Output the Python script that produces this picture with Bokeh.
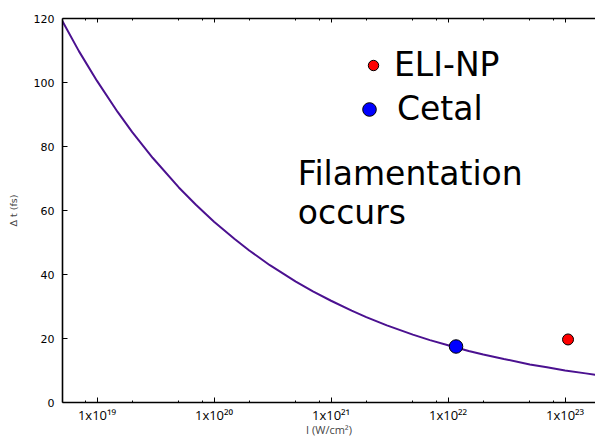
from bokeh.plotting import figure
from bokeh.models import Range1d, FixedTicker, LogAxis, Legend, LegendItem, Label
from bokeh.embed import file_html
from bokeh.resources import INLINE

# ---- data ----
intensity = [5e18, 7e18, 1e19, 1.5e19, 2e19, 3e19, 5e19, 7e19, 1e20, 1.5e20, 2e20, 3e20,
             5e20, 7e20, 1e21, 1.5e21, 2e21, 3e21, 5e21, 7e21, 1e22, 1.5e22, 2e22, 3e22,
             5e22, 7e22, 1e23, 1.5e23, 2e23]
delta_t = [119.5, 109.8, 100.5, 90.8, 84.5, 76.4, 67.2, 61.8, 56.5, 51.1, 47.5, 42.9,
           37.8, 34.7, 31.8, 28.7, 26.7, 24.1, 21.2, 19.5, 17.9, 16.1, 15.0, 13.6,
           11.9, 11.0, 10.0, 9.1, 8.4]

eli_np_I = [1.06e23]
eli_np_dt = [19.7]
cetal_I = [1.17e22]
cetal_dt = [17.5]

x_major = [1e19, 1e20, 1e21, 1e22, 1e23]
x_major_labels = ["1x10¹⁹", "1x10²⁰", "1x10²¹", "1x10²²", "1x10²³"]
x_minor = [m * d for d in [1e18, 1e19, 1e20, 1e21, 1e22, 1e23] for m in (2, 5, 8)]
y_major = [0, 20, 40, 60, 80, 100, 120]

# ---- figure ----
p = figure(width=595, height=441, x_axis_type="log",
           x_range=Range1d(5.07e18, 1.82e23), y_range=Range1d(0, 120),
           output_backend="svg", toolbar_location=None,
           min_border_left=62, min_border_right=0, min_border_top=18, min_border_bottom=39)
p.background_fill_color = "white"
p.border_fill_color = "white"
p.outline_line_color = None
p.xgrid.visible = False
p.ygrid.visible = False

xt = FixedTicker(ticks=x_major, minor_ticks=x_minor)

xa = p.xaxis[0]
xa.ticker = xt
xa.major_label_overrides = dict(zip(x_major, x_major_labels))
xa.major_label_text_font = "Open Sans"
xa.major_label_text_font_size = "13px"
xa.major_label_text_color = "black"
xa.major_label_standoff = 3
xa.axis_label = "I (W/cm²)"
xa.axis_label_text_font = "Open Sans"
xa.axis_label_text_font_style = "normal"
xa.axis_label_text_font_size = "11px"
xa.axis_label_standoff = -5
xa.axis_line_width = 1.6
xa.axis_line_color = "black"
xa.major_tick_in = 5
xa.major_tick_out = 0
xa.minor_tick_in = 2
xa.minor_tick_out = 0
xa.major_tick_line_color = "black"
xa.minor_tick_line_color = "black"

ya = p.yaxis[0]
ya.ticker = FixedTicker(ticks=y_major, minor_ticks=[])
ya.major_label_text_font = "DejaVu Sans"
ya.major_label_text_font_size = "11px"
ya.major_label_text_color = "black"
ya.major_label_standoff = 8
ya.axis_label = "Δ t (fs)"
ya.axis_label_text_font = "DejaVu Sans"
ya.axis_label_text_font_style = "normal"
ya.axis_label_text_font_size = "9.5px"
ya.axis_label_standoff = 12
ya.axis_line_width = 1.6
ya.axis_line_color = "black"
ya.major_tick_in = 5
ya.major_tick_out = 0
ya.minor_tick_in = 0
ya.minor_tick_out = 0

top = LogAxis(ticker=xt, major_label_text_font_size="1px", major_label_text_alpha=0,
              major_label_standoff=0,
              major_tick_in=4, major_tick_out=0, minor_tick_in=2, minor_tick_out=0,
              axis_line_width=1.6, axis_line_color="black")
p.add_layout(top, "above")

# ---- glyphs ----
p.line(intensity, delta_t, line_color="#4b1190", line_width=2)
r_eli = p.scatter(eli_np_I, eli_np_dt, size=11, fill_color="red", line_color="black", line_width=1)
r_cetal = p.scatter(cetal_I, cetal_dt, size=13.5, fill_color="#0000ff", line_color="black", line_width=1)

leg_common = dict(padding=0, margin=0, border_line_color=None, background_fill_alpha=0,
                  label_text_font="DejaVu Sans", label_text_font_size="33px",
                  label_text_color="black", spacing=0)
leg1 = Legend(items=[LegendItem(label="ELI-NP", renderers=[r_eli])],
              location=(298, 318), glyph_width=26, glyph_height=26, label_standoff=8,
              **leg_common)
leg2 = Legend(items=[LegendItem(label="Cetal", renderers=[r_cetal])],
              location=(290, 274), glyph_width=34, glyph_height=34, label_standoff=11,
              **leg_common)
p.add_layout(leg1)
p.add_layout(leg2)

for txt, yv in (("Filamentation", 71.6), ("occurs", 59.4)):
    p.add_layout(Label(x=5.2e20, y=yv, text=txt, text_font="DejaVu Sans",
                       text_font_size="33px", text_color="black",
                       text_baseline="alphabetic", text_align="left"))

open("out.html", "w").write(file_html(p, INLINE))
